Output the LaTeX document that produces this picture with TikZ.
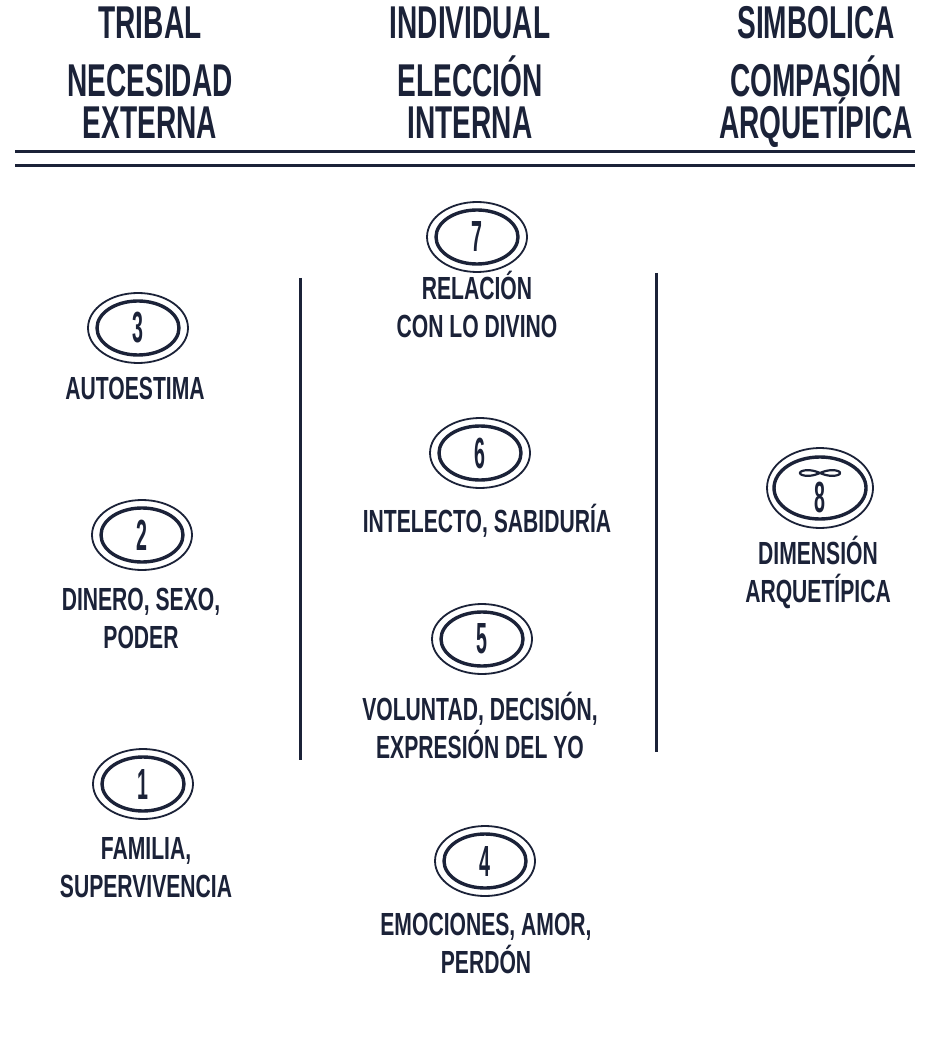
\documentclass[tikz,border=0pt]{standalone}
\usepackage{fontspec}
\usetikzlibrary{shapes.geometric}
\setmainfont{Liberation Sans}
\newfontfamily\headfont{Liberation Sans}[FakeStretch=0.61]
\newfontfamily\tagfont{Liberation Sans}[FakeStretch=0.66]
\newfontfamily\numfont{Liberation Sans}[FakeStretch=0.45]
\newcommand{\tightlines}{\lineskiplimit=-30pt\relax}
\definecolor{ChakraInk}{HTML}{1B2238}
\tikzset{
  colhead/.style={anchor=base, align=center, inner sep=0pt, text=ChakraInk,
    font=\headfont\bfseries\fontsize{23}{21}\selectfont\tightlines},
  chakra/.style={ellipse, draw=ChakraInk, line width=1.7pt, inner sep=0pt,
    minimum width=41pt, minimum height=27pt, text=ChakraInk,
    font=\numfont\bfseries\fontsize{21.8}{22}\selectfont},
  halo/.style={draw=ChakraInk, line width=0.9pt},
  tag/.style={anchor=base, align=center, inner sep=0pt, text=ChakraInk,
    font=\tagfont\bfseries\fontsize{16}{19}\selectfont\tightlines},
  rule/.style={draw=ChakraInk, line width=1.5pt}
}
\begin{document}
\begin{tikzpicture}[x=0.5pt, y=-0.5pt]
  \useasboundingbox[fill=white] (0,0) rectangle (946,1047);

  % column headings (placed by the baseline of their last line)
  \node[colhead] (h1) at (150,139) {TRIBAL\\[8pt]NECESIDAD\\EXTERNA};
  \node[colhead] (h2) at (470,139) {INDIVIDUAL\\[8pt]ELECCIÓN\\INTERNA};
  \node[colhead] (h3) at (816,139) {SIMBOLICA\\[8pt]COMPASIÓN\\ARQUETÍPICA};

  % double rule
  \coordinate (rl) at (15,159);
  \coordinate (rr) at (915,159);
  \draw[rule, double=white, double distance=5.5pt] (rl) -- (rr);

  % column separators
  \coordinate (s1t) at (300,278);
  \coordinate (s1b) at (300,760);
  \coordinate (s2t) at (656,273);
  \coordinate (s2b) at (656,752);
  \draw[rule] (s1t) -- (s1b);
  \draw[rule] (s2t) -- (s2b);

  % chakras
  \node[chakra] (c1) at (143,784) {1};
  \node[chakra] (c2) at (142,535) {2};
  \node[chakra] (c3) at (138,328) {3};
  \node[chakra] (c4) at (485,861) {4};
  \node[chakra] (c5) at (482,639) {5};
  \node[chakra] (c6) at (480,453) {6};
  \node[chakra] (c7) at (477,237) {7};
  \node[chakra, minimum width=46pt, minimum height=31pt] (c8) at (820,488) {};
  \node[text=ChakraInk, inner sep=0pt, font=\numfont\bfseries\fontsize{21.8}{22}\selectfont]
    (d8) at ([yshift=-4.5pt]c8.center) {8};
  \foreach \c in {c1,c2,c3,c4,c5,c6,c7}
    \draw[halo] (\c.center) ellipse [x radius=25pt, y radius=17.5pt];
  \draw[halo] (c8.center) ellipse [x radius=26.5pt, y radius=20pt];
  \draw[ChakraInk, line width=1.1pt, shift={(c8.center)}]
    plot[domain=0:360, samples=72, smooth]
    ({20*cos(\x)/(1+sin(\x)*sin(\x))}, {-15+8*sin(\x)*cos(\x)/(1+sin(\x)*sin(\x))});

  % labels (placed by the baseline of their last line)
  \node[tag] (l1) at (146,897) {FAMILIA,\\SUPERVIVENCIA};
  \node[tag] (l2) at (141,648) {DINERO, SEXO,\\PODER};
  \node[tag] (l3) at (135,400) {AUTOESTIMA};
  \node[tag] (l4) at (486,973) {EMOCIONES, AMOR,\\PERDÓN};
  \node[tag] (l5) at (480,758) {VOLUNTAD, DECISIÓN,\\EXPRESIÓN DEL YO};
  \node[tag] (l6) at (487,532) {INTELECTO, SABIDURÍA};
  \node[tag] (l7) at (477,338) {RELACIÓN\\CON LO DIVINO};
  \node[tag] (l8) at (818,602) {DIMENSIÓN\\ARQUETÍPICA};
\end{tikzpicture}
\end{document}
